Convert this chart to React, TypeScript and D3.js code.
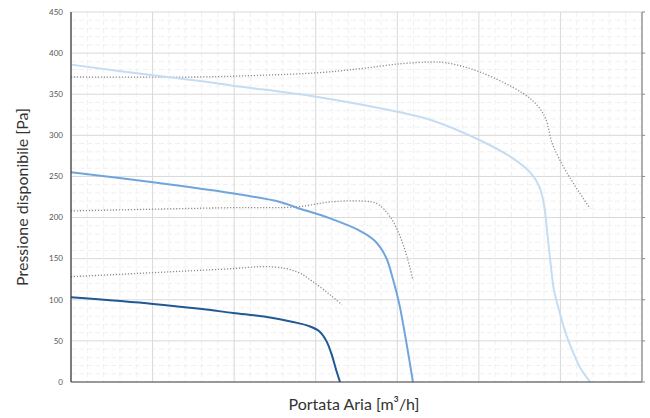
import React from "react";
import * as d3 from "d3";

type P = [number, number];

const yTicks = [0, 50, 100, 150, 200, 250, 300, 350, 400, 450];
const xMajor = [0, 500, 1000, 1500, 2000, 2500, 3000, 3500];

const curveDark: P[] = [
  [0, 103], [503, 95], [791, 89], [993, 84], [1201, 79], [1361, 73], [1460, 68],
  [1520, 62], [1565, 50], [1600, 32], [1625, 15], [1649, 0],
];
const curveMedium: P[] = [
  [0, 255], [503, 243], [975, 230], [1281, 219], [1385, 212], [1588, 199],
  [1760, 185], [1860, 172], [1930, 152], [1975, 124], [2012, 95], [2054, 50], [2096, 0],
];
const curveLight: P[] = [
  [0, 386], [503, 373], [791, 366], [1005, 360], [1502, 347], [2017, 328],
  [2201, 319], [2507, 294], [2709, 272], [2814, 255], [2870, 238], [2900, 215],
  [2920, 180], [2942, 140], [2960, 112], [2985, 92], [3010, 74], [3040, 55],
  [3080, 35], [3125, 16], [3182, 0],
];
const dottedA: P[] = [
  [0, 371], [791, 371], [1159, 373], [1502, 376], [1772, 381], [2017, 387],
  [2201, 389], [2305, 388], [2507, 377], [2771, 351], [2860, 336], [2910, 320],
  [2950, 290], [3041, 254], [3182, 211],
];
const dottedB: P[] = [
  [0, 208], [975, 212], [1385, 213], [1588, 219], [1790, 220], [1876, 217],
  [1956, 201], [2017, 177], [2060, 152], [2096, 124],
];
const dottedC: P[] = [
  [0, 128], [913, 137], [1238, 140], [1385, 134], [1483, 122], [1588, 106], [1661, 94],
];

const solidSeries = [
  { data: curveLight, color: "#c6dcf2" },
  { data: curveMedium, color: "#6fa5dc" },
  { data: curveDark, color: "#1f5894" },
];
const dottedSeries = [dottedA, dottedB, dottedC];

export default function App() {
  const W = 650, H = 418;
  const left = 71, right = 642, top = 12, bottom = 382;
  const x = d3.scaleLinear().domain([0, 3500]).range([left, right]);
  const y = d3.scaleLinear().domain([0, 450]).range([bottom, top]);
  const line = d3
    .line<P>()
    .x((d) => x(d[0]))
    .y((d) => y(d[1]))
    .curve(d3.curveCatmullRom.alpha(0.5));

  const minorY = d3.range(0, 451, 10).filter((v) => v % 50 !== 0);
  const minorX = d3.range(0, 3501, 100).filter((v) => v % 500 !== 0);
  const font = "Lato, 'Open Sans', sans-serif";

  return (
    <svg
      width={W}
      height={H}
      style={{ position: "fixed", left: 0, top: 0, background: "#fff" }}
    >
      <rect width={W} height={H} fill="#fff" />
      <g>
        {minorY.map((v) => (
          <line key={"my" + v} x1={left} x2={right} y1={y(v)} y2={y(v)}
            stroke="#f0f0f0" strokeWidth={1} strokeDasharray="5 3" />
        ))}
        {minorX.map((v) => (
          <line key={"mx" + v} x1={x(v)} x2={x(v)} y1={top} y2={bottom}
            stroke="#f0f0f0" strokeWidth={1} strokeDasharray="5 3" />
        ))}
        {yTicks.map((v) => (
          <line key={"gy" + v} x1={left} x2={right} y1={y(v)} y2={y(v)}
            stroke="#d9d9d9" strokeWidth={1} />
        ))}
        {xMajor.map((v) => (
          <line key={"gx" + v} x1={x(v)} x2={x(v)} y1={top} y2={bottom}
            stroke="#d9d9d9" strokeWidth={1} />
        ))}
      </g>
      {dottedSeries.map((d, i) => (
        <path key={"d" + i} d={line(d) || ""} fill="none" stroke="#8c8c8c"
          strokeWidth={1.3} strokeDasharray="1.2 1.8" />
      ))}
      {solidSeries.map((s, i) => (
        <path key={"s" + i} d={line(s.data) || ""} fill="none" stroke={s.color}
          strokeWidth={2} />
      ))}
      <line x1={left} x2={left} y1={top} y2={bottom} stroke="#333" strokeWidth={1.2} />
      <line x1={left} x2={right} y1={bottom} y2={bottom} stroke="#444" strokeWidth={1.2} />
      <line x1={right} x2={right} y1={top} y2={bottom} stroke="#888" strokeWidth={1.2} />
      {yTicks.map((v) => (
        <line key={"rt" + v} x1={right} x2={right + 3} y1={y(v)} y2={y(v)} stroke="#888" />
      ))}
      {yTicks.map((v) => (
        <text key={"yl" + v} x={left - 8} y={y(v)} dy="0.35em" textAnchor="end"
          fontSize={8} fill="#555" fontFamily={font}>
          {v}
        </text>
      ))}
      <text
        transform={`translate(22, ${(top + bottom) / 2}) rotate(-90)`}
        textAnchor="middle" fontSize={16} fill="#333" fontFamily={font}
        dy="0.35em"
      >
        Pressione disponibile [Pa]
      </text>
      <text x={354} y={404} textAnchor="middle" fontSize={16} fill="#333"
        fontFamily={font} dy="0.35em">
        Portata Aria [m³/h]
      </text>
    </svg>
  );
}
